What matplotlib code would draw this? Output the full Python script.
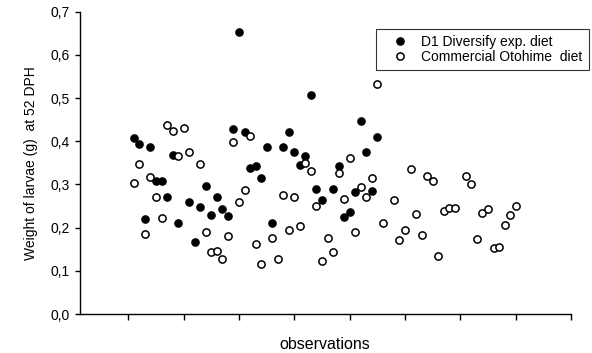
import matplotlib
matplotlib.use("Agg")
import matplotlib.pyplot as plt
from matplotlib.ticker import FuncFormatter

plt.rcParams['font.family'] = ['Liberation Sans', 'DejaVu Sans']

# D1 Diversify exp. diet (observation number, weight)
d1_obs = [1, 2, 3, 4, 5, 6, 7, 8, 9, 11, 12, 13, 14, 15, 16, 17, 18, 19, 20, 21,
          22, 23, 24, 25, 26, 28, 29, 30, 31, 32, 33, 34, 35, 37, 38, 39, 40, 41,
          42, 43, 44, 45]
d1_weight = [0.407, 0.393, 0.220, 0.387, 0.308, 0.308, 0.270, 0.368, 0.211, 0.260,
             0.166, 0.248, 0.296, 0.229, 0.272, 0.242, 0.227, 0.429, 0.652, 0.421,
             0.338, 0.343, 0.315, 0.386, 0.210, 0.387, 0.421, 0.376, 0.344, 0.365,
             0.506, 0.289, 0.263, 0.289, 0.343, 0.224, 0.237, 0.283, 0.447, 0.374,
             0.285, 0.410]

# Commercial Otohime diet
oto_obs = [1, 2, 3, 4, 5, 6, 7, 8, 9, 10, 11, 13, 14, 15, 16, 17, 18, 19, 20, 21,
           22, 23, 24, 26, 27, 28, 29, 30, 31, 32, 33, 34, 35, 36, 37, 38, 39, 40,
           41, 42, 43, 44, 45, 46, 48, 49, 50, 51, 52, 53, 54, 55, 56, 57, 58, 59,
           61, 62, 63, 64, 65, 66, 67, 68, 69, 70]
oto_weight = [0.303, 0.348, 0.186, 0.317, 0.271, 0.222, 0.438, 0.424, 0.367, 0.431,
              0.375, 0.348, 0.191, 0.143, 0.147, 0.127, 0.181, 0.398, 0.259, 0.287,
              0.413, 0.162, 0.115, 0.177, 0.127, 0.276, 0.194, 0.272, 0.204, 0.350,
              0.332, 0.250, 0.123, 0.177, 0.143, 0.326, 0.266, 0.361, 0.191, 0.293,
              0.272, 0.316, 0.533, 0.210, 0.264, 0.172, 0.195, 0.336, 0.232, 0.182,
              0.320, 0.309, 0.135, 0.238, 0.245, 0.245, 0.320, 0.300, 0.173, 0.233,
              0.242, 0.153, 0.155, 0.205, 0.229, 0.251]

fig = plt.figure(figsize=(5.92, 3.53), dpi=100)
ax = fig.add_axes([80/592, 39/353, 491/592, 302.3/353])

ax.plot(d1_obs, d1_weight, 'o', color='black', markersize=5.2, mew=1.0,
        label='D1 Diversify exp. diet')
ax.plot(oto_obs, oto_weight, 'o', markerfacecolor='white', markeredgecolor='black',
        markersize=5.2, mew=1.1, label='Commercial Otohime  diet')

ax.set_xlim(-8.73, 80)
ax.set_ylim(0, 0.7)
ax.set_xticks(range(0, 81, 10))
ax.set_xticklabels([])
ax.set_yticks([0.0, 0.1, 0.2, 0.3, 0.4, 0.5, 0.6, 0.7])
ax.yaxis.set_major_formatter(FuncFormatter(lambda v, p: ('%.1f' % v).replace('.', ',')))

ax.spines['top'].set_visible(False)
ax.spines['right'].set_visible(False)
for s in ['left', 'bottom']:
    ax.spines[s].set_linewidth(1.0)
ax.tick_params(axis='y', direction='out', length=3.5, width=1.0, pad=4, labelsize=10)
ax.tick_params(axis='x', direction='out', length=4.5, width=1.0)

ax.set_ylabel('Weight of larvae (g)  at 52 DPH', fontsize=10)
ax.yaxis.set_label_coords(-0.085, 0.5)
ax.set_xlabel('observations', fontsize=11.5)
ax.xaxis.set_label_coords(0.498, -0.075)

leg = ax.legend(loc='upper left', bbox_to_anchor=((376-80)/491, (314-29)/302.3),
                fontsize=10, frameon=True, fancybox=False, borderpad=0.45,
                handlelength=2.6, handletextpad=0.2, labelspacing=0.05,
                borderaxespad=0, numpoints=1)
leg.get_frame().set_edgecolor('black')
leg.get_frame().set_linewidth(0.8)

fig.savefig('out.png', dpi=100)
